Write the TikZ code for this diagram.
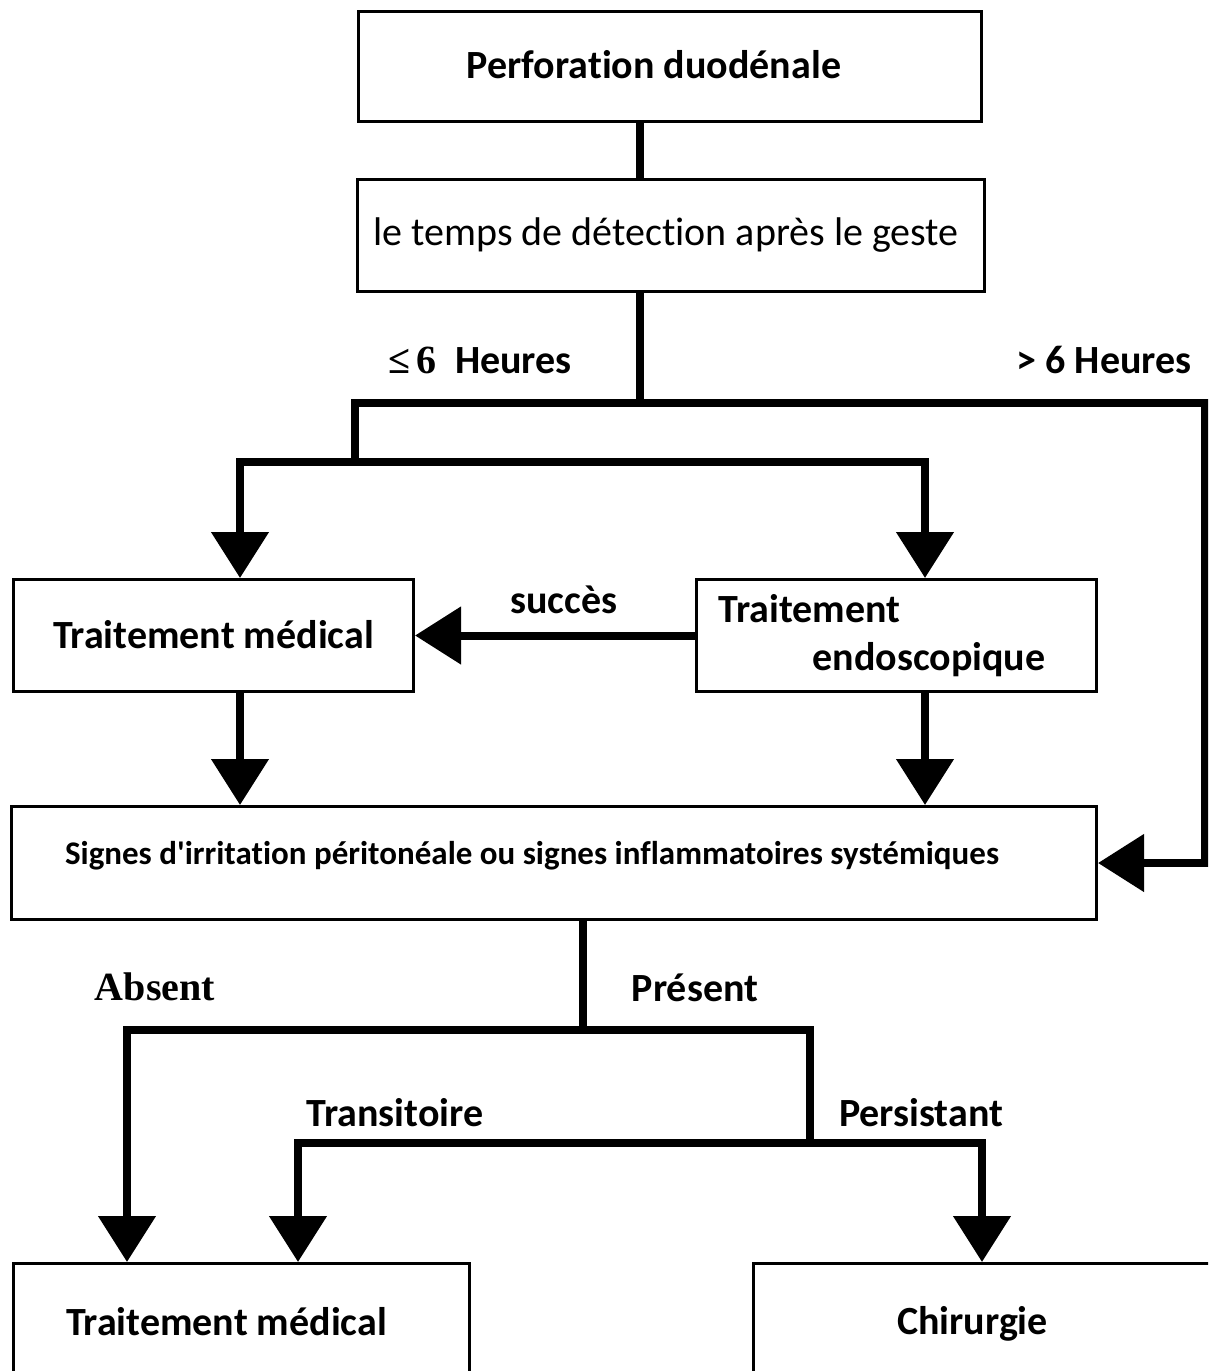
\documentclass[tikz,border=0pt]{standalone}
\usepackage{fontspec}
\setmainfont{Carlito}[Ligatures={NoCommon,TeXOff}]
\newfontfamily\serifb{Liberation Serif}
\usetikzlibrary{arrows.meta}
\begin{document}
\begin{tikzpicture}[x=1pt,y=-1pt,
  box/.style={draw, line width=3pt, inner sep=0pt, anchor=north west, font=\fontsize{40}{48}\selectfont\bfseries},
  conn/.style={line width=8pt},
  arr/.style={line width=8pt, -{Triangle[length=46pt,width=56pt]}},
  lab/.style={font=\fontsize{40}{48}\selectfont\bfseries, inner sep=0pt}]
\clip (0,0) rectangle (1208,1371);
\useasboundingbox (0,0) rectangle (1208,1371);
% boxes
\node[box, minimum width=623pt, minimum height=110pt] (b1) at (357,10) {\raisebox{5pt}{Perforation duodénale}\hspace*{32pt}};
\node[box, minimum width=627pt, minimum height=112pt, font=\fontsize{40}{48}\selectfont] (b2) at (356,178) {\raisebox{3pt}{le temps de détection après le geste}\hspace*{10pt}};
\node[box, minimum width=400pt, minimum height=112pt] (tm1) at (12,578) {\raisebox{2pt}{Traitement médical}};
\node[box, minimum width=400pt, minimum height=112pt, text width=356pt, align=left, inner xsep=22pt] (te) at (695,578) {\raisebox{-3pt}{Traitement}\\\hspace*{94pt}\raisebox{-3pt}{endoscopique}};
\node[box, minimum width=1085pt, minimum height=113pt, font=\fontsize{33}{40}\selectfont\bfseries] (sig) at (10,805) {\raisebox{21pt}{Signes d'irritation péritonéale ou signes inflammatoires systémiques}\hspace*{44pt}};
\node[box, minimum width=456pt, minimum height=120pt] (tm2) at (12,1262) {\raisebox{5pt}{Traitement médical}\hspace*{30pt}};
\node[box, minimum width=470pt, minimum height=120pt] (chir) at (752,1262) {\raisebox{5pt}{Chirurgie}\hspace*{32pt}};
% junctions
\coordinate (j1) at (640,403);
\coordinate (j2) at (355,403);
\coordinate (jR) at (1205,403);
\coordinate (j3) at (355,462);
\coordinate (j4) at (240,462);
\coordinate (j5) at (925,462);
\coordinate (j6) at (583,1030);
\coordinate (j7) at (127,1030);
\coordinate (j8) at (810,1030);
\coordinate (j9) at (810,1143);
\coordinate (j10) at (298,1143);
\coordinate (j11) at (982,1143);
% connectors
\draw[conn] (b1.south -| j1) -- (b2.north -| j1);
\draw[conn] (b2.south -| j1) -- (j1);
\draw[arr] (j3) -- (j2) -- (jR) |- (sig.east);
\draw[arr] (j3) -- (j4) -- (j4 |- tm1.north);
\draw[arr] (j3) -- (j5) -- (j5 |- te.north);
\draw[arr] (te.west) -- (tm1.east);
\draw[arr] (tm1.south -| j4) -- (sig.north -| j4);
\draw[arr] (te.south -| j5) -- (sig.north -| j5);
\draw[conn] (sig.south -| j6) -- (j6);
\draw[arr] (j6) -- (j7) -- (j7 |- tm2.north);
\draw[conn] (j6) -- (j8) -- (j9);
\draw[arr] (j9) -- (j10) -- (j10 |- tm2.north);
\draw[arr] (j9) -- (j11) -- (j11 |- chir.north);
% labels
\node[lab] (l1) at (480,360) {{\serifb ≤\,6}\ \ Heures};
\node[lab] (l2) at (1104,360) {> 6 Heures};
\node[lab] (l3) at (564,600) {succès};
\node[lab, font=\fontsize{40}{48}\selectfont\bfseries\serifb] (l4) at (155,987) {Absent};
\node[lab] (l5) at (695,988) {Présent};
\node[lab] (l6) at (395,1113) {Transitoire};
\node[lab] (l7) at (921,1113) {Persistant};
\end{tikzpicture}
\end{document}
